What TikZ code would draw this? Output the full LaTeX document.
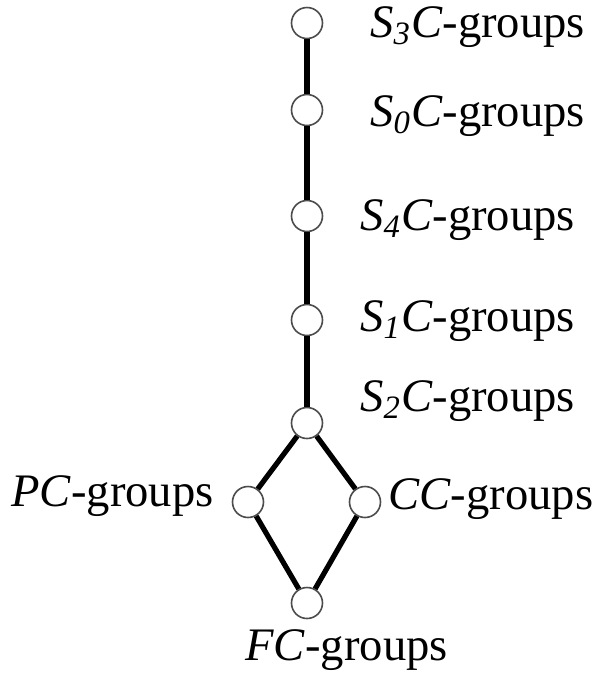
\documentclass[tikz,border=0pt]{standalone}
\usepackage{fontspec}
\setmainfont{Liberation Serif}
\usetikzlibrary{positioning}
\tikzset{
  vtx/.style={circle, draw=black!70, fill=white, line width=0.8pt, minimum size=15.5pt, inner sep=0pt},
  link/.style={line width=2.6pt, color=black},
  grp/.style={font=\fontsize{23.3}{26}\selectfont, inner sep=0pt, anchor=base west},
}
\newcommand{\sgrp}[1]{\textit{S}\textsubscript{\textit{#1}}\textit{C}-groups}
\begin{document}
\begin{tikzpicture}[x=0.5pt,y=-0.5pt]
\useasboundingbox[fill=white] (0,0) rectangle (596,677);
\foreach \n/\y in {s3/23,s0/110,s4/216,s1/320,s2/423}{
\node[vtx] (\n) at (307,\y) {};}
\node[vtx] (pc) at (248,502) {};
\node[vtx] (cc) at (365,502) {};
\node[vtx] (fc) at (307,603) {};
\draw[link] (s3)--(s0)--(s4)--(s1)--(s2);
\draw[link] (s2)--(pc)--(fc)--(cc)--(s2);
% labels
\node[grp] (l3) at (370,37) {\sgrp{3}};
\node[grp] (l0) at (370,126) {\sgrp{0}};
\node[grp] (l4) at (360,230) {\sgrp{4}};
\node[grp] (l1) at (360,331) {\sgrp{1}};
\node[grp] (l2) at (360,411) {\sgrp{2}};
\node[grp,anchor=base east] (lp) at (214,506) {\textit{PC}-groups};
\node[grp] (lc) at (388,509) {\textit{CC}-groups};
\node[grp] (lf) at (245,660) {\textit{FC}-groups};
\end{tikzpicture}
\end{document}
